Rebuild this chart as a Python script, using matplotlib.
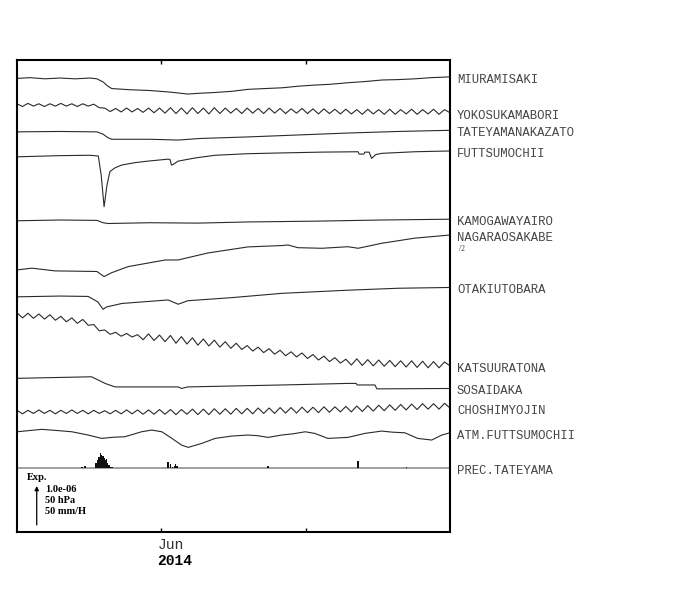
import matplotlib as mpl
mpl.use('Agg')

import numpy as np
import matplotlib.pyplot as plt
import matplotlib.transforms as mtransforms

# time axis: days from start of window, ticks at month boundaries
T_END = 90
MONTH_TICKS = [30, 60]

# strain traces in 1e-6 (relative to first sample), pressure in hPa, rain in mm/H
miura_days = [0, 2.7, 5.8, 8.9, 12.1, 15.2, 16.6, 17.9, 18.9, 19.7, 23.5, 27.6, 31.8, 35.5, 38.0,
              41.2, 44.7, 48.0, 51.5, 55.1, 58.4, 61.9, 65.1, 68.8, 72.3, 75.9, 79.2, 82.7, 86.1, 90]
miura_vals = [0, 0.02, -0.01, 0.01, -0.01, 0.01, -0.01, -0.09, -0.20, -0.26, -0.29, -0.31, -0.35, -0.40, -0.38,
              -0.36, -0.33, -0.28, -0.26, -0.24, -0.20, -0.17, -0.15, -0.11, -0.08, -0.04, -0.03, -0.01, 0.02, 0.04]

# tidal records sampled at peaks / troughs
yokosuka_vals = [0.03, -0.04, 0.04, -0.03, 0.03, -0.04, 0.03, -0.03, 0.04, -0.03, 0.03, -0.04, 0.03, -0.03, 0.02,
                 -0.07, -0.08, -0.17, -0.09, -0.18, -0.08, -0.18, -0.09, -0.19, -0.08, -0.20, -0.08, -0.21, -0.07,
                 -0.22, -0.08, -0.23, -0.07, -0.22, -0.08, -0.23, -0.07, -0.22, -0.08, -0.21, -0.09, -0.22, -0.08,
                 -0.21, -0.09, -0.22, -0.08, -0.21, -0.09, -0.22, -0.10, -0.21, -0.09, -0.22, -0.10, -0.23, -0.10,
                 -0.22, -0.11, -0.23, -0.11, -0.23, -0.12, -0.24, -0.11, -0.23, -0.12, -0.24, -0.11, -0.24, -0.12,
                 -0.23, -0.11, -0.24, -0.12, -0.23, -0.11, -0.24, -0.12, -0.20]

tateyama_days = [0, 8.9, 16.6, 17.9, 18.9, 19.7, 27.6, 33.5, 38.0, 48.0, 58.4, 68.8, 79.2, 90]
tateyama_vals = [0, 0.01, 0, -0.06, -0.15, -0.19, -0.19, -0.21, -0.17, -0.13, -0.08, -0.03, 0.01, 0.04]

futtsu_days = [0, 8.9, 15.2, 16.9, 17.5, 18.1, 18.7, 19.3, 20.4, 21.8, 24.5, 27.2, 31.4, 31.8, 32.1, 32.4,
               33.5, 37.0, 41.2, 48.0, 55.1, 63.0, 70.9, 71.1, 72.1, 72.3, 73.2, 73.7, 74.6, 75.9, 82.7, 90]
futtsu_vals = [0, 0.03, 0.04, 0.02, -0.47, -1.28, -0.73, -0.38, -0.28, -0.21, -0.15, -0.11, -0.06, -0.07, -0.21,
               -0.20, -0.11, -0.03, 0.04, 0.08, 0.10, 0.12, 0.13, 0.07, 0.07, 0.12, 0.12, -0.04, 0.06, 0.09, 0.13, 0.15]

kamogawa_days = [0, 8.9, 16.6, 17.9, 18.9, 27.6, 37.6, 48.0, 61.9, 75.9, 90]
kamogawa_vals = [0, 0.02, 0.01, -0.05, -0.07, -0.05, -0.06, -0.03, -0.01, 0.02, 0.04]

nagara_days = [0, 3.1, 7.9, 16.6, 18.1, 19.7, 23.1, 30.8, 33.5, 39.7, 48.0, 55.1, 56.3, 58.4, 63.4,
               68.8, 70.9, 75.9, 82.7, 90]
nagara_vals = [0, 0.09, -0.05, -0.08, -0.34, -0.14, 0.17, 0.51, 0.51, 0.87, 1.18, 1.25, 1.28, 1.14, 1.11,
               1.19, 1.11, 1.37, 1.63, 1.79]
nagara_div = 2

otaki_days = [0, 8.9, 14.8, 16.8, 17.9, 18.6, 21.8, 31.4, 33.5, 35.5, 44.7, 55.1, 68.8, 79.2, 90]
otaki_vals = [0, 0.02, 0.01, -0.13, -0.32, -0.26, -0.17, -0.08, -0.19, -0.10, -0.02, 0.09, 0.17, 0.22, 0.24]

katsuura_vals = [0.06, -0.07, 0.05, -0.08, 0.03, -0.10, 0.01, -0.13, -0.03, -0.17, -0.07, -0.21, -0.11, -0.26,
                 -0.24, -0.40, -0.38, -0.49, -0.44, -0.54, -0.47, -0.56, -0.50, -0.63, -0.48, -0.65, -0.51,
                 -0.68, -0.52, -0.72, -0.55, -0.74, -0.58, -0.77, -0.61, -0.79, -0.64, -0.82, -0.68, -0.85,
                 -0.72, -0.88, -0.78, -0.92, -0.82, -0.96, -0.86, -1.00, -0.90, -1.04, -0.94, -1.07, -0.97,
                 -1.11, -1.01, -1.15, -1.05, -1.19, -1.09, -1.23, -1.13, -1.28, -1.12, -1.29, -1.14, -1.30,
                 -1.15, -1.31, -1.16, -1.32, -1.17, -1.33, -1.17, -1.34, -1.18, -1.35, -1.19, -1.35, -1.20, -1.30]

sosai_days = [0, 15.5, 18.3, 20.4, 33.5, 34.2, 35.5, 55.1, 68.8, 70.5, 70.7, 74.4, 74.8, 90]
sosai_vals = [0, 0.04, -0.13, -0.22, -0.22, -0.26, -0.22, -0.17, -0.13, -0.13, -0.17, -0.17, -0.27, -0.26]

choshi_vals = [0.04, -0.05, 0.04, -0.04, 0.05, -0.04, 0.04, -0.05, 0.04, -0.04, 0.05, -0.04, 0.04, -0.05, 0.04,
               -0.04, 0.03, -0.05, 0.04, -0.05, 0.05, -0.05, 0.05, -0.06, 0.05, -0.06, 0.06, -0.06, 0.06, -0.07,
               0.06, -0.06, 0.07, -0.07, 0.07, -0.07, 0.08, -0.06, 0.08, -0.06, 0.09, -0.05, 0.09, -0.05, 0.10,
               -0.04, 0.10, -0.04, 0.11, -0.03, 0.11, -0.03, 0.12, -0.02, 0.12, -0.02, 0.13, -0.01, 0.13, 0.00,
               0.14, 0.00, 0.15, 0.01, 0.16, 0.02, 0.17, 0.03, 0.18, 0.04, 0.19, 0.05, 0.20, 0.06, 0.21, 0.07,
               0.21, 0.07, 0.22, 0.10]

atm_days = [0, 2.5, 5.1, 8.0, 11.4, 14.8, 17.6, 20.0, 22.4, 25.9, 28.0, 30.1, 32.2, 34.2, 35.6, 38.4,
            41.2, 44.6, 48.0, 50.0, 52.2, 55.0, 57.5, 59.9, 61.9, 64.6, 68.8, 72.3, 75.8, 78.0, 80.6,
            83.3, 86.2, 88.3, 90]
atm_hpa = [0, 1.5, 3.1, 1.8, 0.0, -4.2, -8.5, -7.0, -6.4, 0, 2.2, 0, -8.5, -17.1, -20.0, -14.9,
           -8.5, -5.5, -4.2, -5.0, -7.2, -4.2, -2.5, 0, -2.1, -8.5, -7.2, -2.1, 0.9, -0.5, -1.3,
           -8.5, -10.6, -4.2, -1.3]

rain_days = [13.5, 14.1, 16.4, 16.8, 17.0, 17.3, 17.5, 17.7, 17.9, 18.1, 18.4, 18.6, 18.8, 19.1, 19.4, 19.7,
             28.3, 31.4, 31.9, 32.3, 32.7, 33.0, 33.3, 33.5, 52.2, 52.9, 63.4, 64.5, 65.5, 70.9,
             79.2, 81.0, 82.5, 84.8]
rain_mmh = [1.3, 3.4, 6.4, 10.7, 15.0, 19.2, 17.1, 12.8, 16.2, 13.7, 10.7, 12.0, 6.4, 4.3, 2.1, 1.3,
            1.0, 8.5, 5.1, 2.1, 3.4, 5.1, 2.6, 0.9, 2.6, 1.0, 0.6, 0.6, 0.6, 9.4,
            0.6, 1.3, 0.6, 1.0]

names = ['MIURAMISAKI', 'YOKOSUKAMABORI', 'TATEYAMANAKAZATO', 'FUTTSUMOCHII', 'KAMOGAWAYAIRO',
         'NAGARAOSAKABE', 'OTAKIUTOBARA', 'KATSUURATONA', 'SOSAIDAKA', 'CHOSHIMYOJIN',
         'ATM.FUTTSUMOCHII', 'PREC.TATEYAMA']
# trace baselines on the page (in scale units, 1 unit = 1.0e-06 / 50 hPa / 50 mm/H)
offsets = [11.63, 10.95, 10.26, 9.62, 7.98, 6.72, 6.03, 5.56, 3.94, 3.08, 2.57, 1.63]

HPA_PER_UNIT = 50.0
MMH_PER_UNIT = 50.0


def main():
    tide_days = np.linspace(0, T_END, len(yokosuka_vals))

    traces = [
        (miura_days, miura_vals),
        (tide_days, yokosuka_vals),
        (tateyama_days, tateyama_vals),
        (futtsu_days, futtsu_vals),
        (kamogawa_days, kamogawa_vals),
        (nagara_days, np.array(nagara_vals) / nagara_div),
        (otaki_days, otaki_vals),
        (tide_days, katsuura_vals),
        (sosai_days, sosai_vals),
        (tide_days, choshi_vals),
        (atm_days, np.array(atm_hpa) / HPA_PER_UNIT),
    ]

    fig = plt.figure(figsize=(7, 5.9), dpi=100)
    ax = fig.add_axes([17 / 700, 58 / 590, 433 / 700, 472 / 590])
    ax.set_xlim(0, T_END)
    ax.set_ylim(0, 472 / 39)

    label_trans = mtransforms.blended_transform_factory(ax.transAxes, ax.transData)
    ends = []
    for (days, vals), off in zip(traces, offsets):
        y = off + np.asarray(vals)
        ax.plot(days, y, color='#2a2a2a', lw=0.8, solid_joinstyle='round')
        ends.append(y[-1])

    # rain gauge
    base = offsets[-1]
    ax.axhline(base, color='#a0a0a0', lw=1.4, zorder=1)
    ax.bar(rain_days, np.array(rain_mmh) / MMH_PER_UNIT, bottom=base, width=0.3,
           color='#111111', lw=0, zorder=2)
    ends.append(base)

    for name, yend in zip(names, ends):
        ax.annotate(name, xy=(1.0, yend), xycoords=label_trans, xytext=(5, -2),
                    textcoords='offset points', va='center', ha='left',
                    fontsize=8.8, family='Liberation Mono', color='#444444',
                    annotation_clip=False)
    ax.annotate('/2', xy=(1.0, ends[5]), xycoords=label_trans, xytext=(6.5, -10),
                textcoords='offset points', va='center', ha='left',
                fontsize=5.5, family='Liberation Serif', color='#333333',
                annotation_clip=False)

    # scale arrow
    ax.annotate('', xy=(4.1, 0.18 + 1.0), xytext=(4.1, 0.18),
                arrowprops=dict(arrowstyle='-|>', color='black', lw=0.9,
                                mutation_scale=6, shrinkA=0, shrinkB=0))
    ax.text(2.1, 1.385, 'Exp.', fontsize=7.5, fontweight='bold', family='Liberation Serif',
            va='center', ha='left')
    for txt, yy in zip(['1.0e-06', '50 hPa', '50 mm/H'], [1.077, 0.80, 0.538]):
        ax.text(5.8, yy, txt, fontsize=7.5, fontweight='bold', family='Liberation Serif',
                va='center', ha='left')

    ax.set_xticks(MONTH_TICKS)
    ax.set_xticklabels([])
    ax.set_yticks([])
    ax.tick_params(axis='x', direction='in', top=True, bottom=True, length=3, width=1)
    for sp in ax.spines.values():
        sp.set_linewidth(1.5)

    ax.text(29.2, -0.028, 'Jun', transform=ax.get_xaxis_transform(), fontsize=10.5,
            family='Liberation Mono', color='#333333', va='center', ha='left')
    ax.text(29.2, -0.062, '2014', transform=ax.get_xaxis_transform(), fontsize=10.5,
            family='Liberation Mono', fontweight='bold', va='center', ha='left')

    fig.savefig('out.png', dpi=100)


if __name__ == '__main__':
    main()
